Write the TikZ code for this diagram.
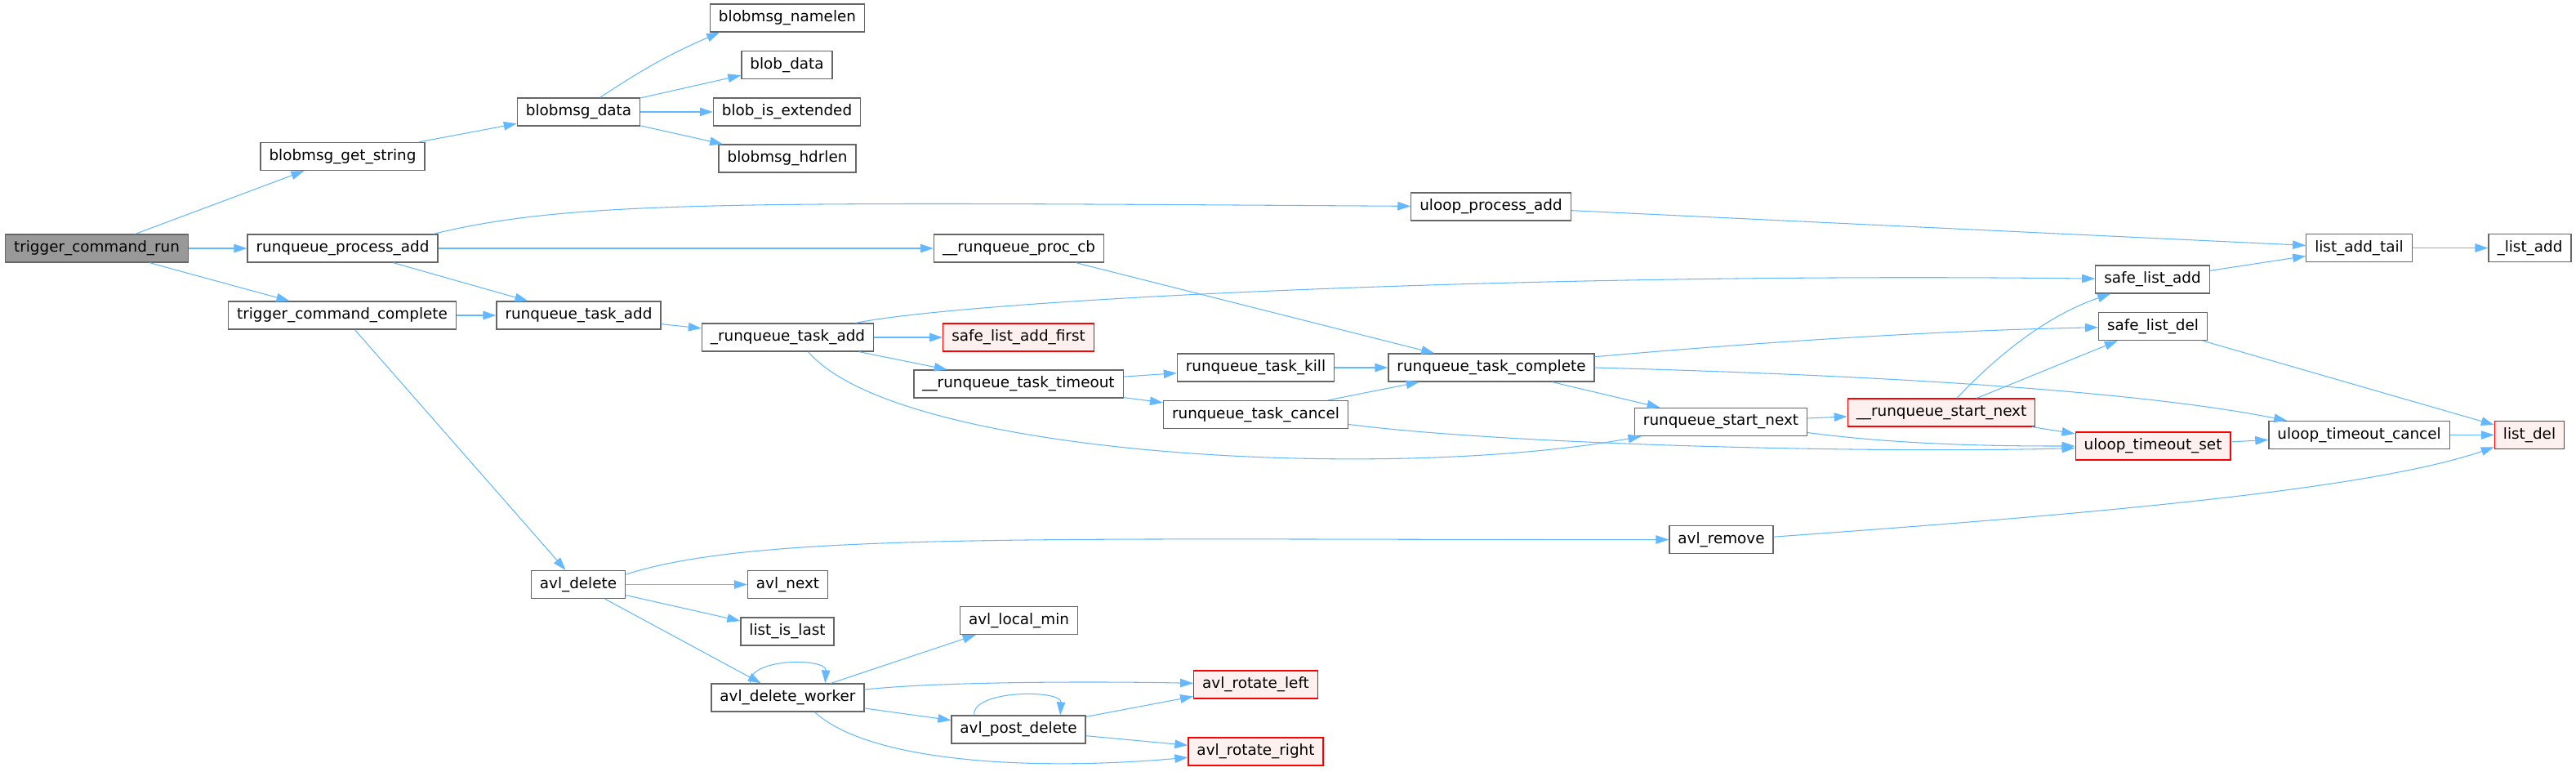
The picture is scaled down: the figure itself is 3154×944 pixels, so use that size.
\documentclass[tikz,border=0pt]{standalone}
\usepackage{fontspec}
\setmainfont{DejaVu Sans}
\usepackage{tikz}
\usetikzlibrary{arrows.meta}
\definecolor{edgeblue}{HTML}{63B8FF}
\definecolor{nodegray}{HTML}{666666}
\definecolor{rootgray}{HTML}{999999}
\definecolor{redfill}{HTML}{FFF0F0}

\begin{document}
\begin{tikzpicture}[
  x=0.02cm, y=-0.02cm,
  font=\fontsize{10.45}{12}\selectfont,
  fn/.style={draw=nodegray, fill=white, line width=0.7pt, minimum height=0.68cm, inner xsep=0.21cm, inner ysep=0pt},
  root/.style={fn, fill=rootgray},
  trunc/.style={fn, draw=red, fill=redfill},
  call/.style={-{Triangle[length=0.32cm,width=0.21cm]}, color=edgeblue, line width=0.6pt}
]
\useasboundingbox (0,0) rectangle (3154,944);

\node[root] (run) at (118.5,304) {trigger\_command\_run};
\node[fn] (getstr) at (419.5,191.5) {blobmsg\_get\_string};
\node[fn] (procadd) at (419.5,304) {runqueue\_process\_add};
\node[fn] (complete) at (419,386) {trigger\_command\_complete};

\node[fn] (bdata) at (708.5,137) {blobmsg\_data};
\node[fn] (namelen) at (964,22) {blobmsg\_namelen};
\node[fn] (blobdata) at (963.5,79.5) {blob\_data};
\node[fn] (isext) at (963.5,137) {blob\_is\_extended};
\node[fn] (hdrlen) at (964,194) {blobmsg\_hdrlen};
\node[fn] (taskadd) at (708.5,386) {runqueue\_task\_add};
\node[fn] (utaskadd) at (964.5,413) {\_runqueue\_task\_add};

\node[fn] (avldel) at (708,715.5) {avl\_delete};
\node[fn] (avlnext) at (964.5,715.5) {avl\_next};
\node[fn] (islast) at (964,773) {list\_is\_last};
\node[fn] (worker) at (964.5,854) {avl\_delete\_worker};

\node[fn] (uprocadd) at (1825.5,253) {uloop\_process\_add};
\node[fn] (proccb) at (1247.5,304) {\_\_runqueue\_proc\_cb};
\node[trunc] (addfirst) at (1247,413) {safe\_list\_add\_first};
\node[fn] (tmout) at (1247,470) {\_\_runqueue\_task\_timeout};
\node[fn] (kill) at (1537.5,450) {runqueue\_task\_kill};
\node[fn] (tcomplete) at (1826,450) {runqueue\_task\_complete};
\node[fn] (cancel) at (1537.5,507.5) {runqueue\_task\_cancel};
\node[fn] (startnext) at (2107,516.5) {runqueue\_start\_next};
\node[fn] (avlremove) at (2107.5,660.5) {avl\_remove};

\node[fn] (localmin) at (1247.5,759.5) {avl\_local\_min};
\node[trunc] (rotleft) at (1537.5,838) {avl\_rotate\_left};
\node[fn] (postdel) at (1247,893) {avl\_post\_delete};
\node[trunc] (rotright) at (1537.5,920) {avl\_rotate\_right};

\node[trunc] (ustartnext) at (2377,505) {\_\_runqueue\_start\_next};
\node[fn] (addtail) at (2888.5,303.5) {list\_add\_tail};
\node[fn] (safeadd) at (2635.5,342) {safe\_list\_add};
\node[fn] (safedel) at (2636,399.5) {safe\_list\_del};
\node[trunc] (tmset) at (2636,546) {uloop\_timeout\_set};
\node[fn] (tmcancel) at (2888.5,532.5) {uloop\_timeout\_cancel};
\node[fn] (listadd) at (3097.5,303.5) {\_list\_add};
\node[trunc] (listdel) at (3097,532.5) {list\_del};

\draw[call] (run) -- (getstr);
\draw[call] (run) -- (procadd);
\draw[call] (run) -- (complete);
\draw[call] (getstr) -- (bdata);
\draw[call] (bdata.34) to[bend left=5] (namelen.192);
\draw[call] (bdata) -- (blobdata);
\draw[call] (bdata) -- (isext);
\draw[call] (bdata) -- (hdrlen);
\draw[call] (procadd.9) .. controls (700,245) and (900,247) .. (uprocadd);
\draw[call] (procadd) -- (proccb);
\draw[call] (procadd) -- (taskadd);
\draw[call] (complete) -- (taskadd);
\draw[call] (complete) -- (avldel);
\draw[call] (taskadd) -- (utaskadd);

\draw[call] (utaskadd.12) .. controls (1200,365) and (1900,333) .. (safeadd);
\draw[call] (utaskadd) -- (addfirst);
\draw[call] (utaskadd) -- (tmout);
\draw[call] (utaskadd.-35) .. controls (1100,560) and (1700,590) .. (startnext);
\draw[call] (uprocadd) -- (addtail);
\draw[call] (proccb) -- (tcomplete);
\draw[call] (tmout) -- (kill);
\draw[call] (tmout) -- (cancel);
\draw[call] (kill) -- (tcomplete);
\draw[call] (cancel) -- (tcomplete);
\draw[call] (cancel.-6) .. controls (1850,545) and (2300,555) .. (tmset);
\draw[call] (tcomplete.6) .. controls (2200,415) and (2400,404) .. (safedel);
\draw[call] (tcomplete.east) .. controls (2250,458) and (2600,475) .. (tmcancel);
\draw[call] (tcomplete) -- (startnext);
\draw[call] (startnext) -- (ustartnext);
\draw[call] (startnext.-7) .. controls (2330,545) and (2450,546) .. (tmset);
\draw[call] (ustartnext.43) .. controls (2450,430) and (2510,385) .. (safeadd);
\draw[call] (ustartnext) -- (safedel);
\draw[call] (ustartnext) -- (tmset);
\draw[call] (tmset) -- (tmcancel);
\draw[call] (tmcancel) -- (listdel);
\draw[call] (safeadd) -- (addtail);
\draw[call] (safedel) -- (listdel);
\draw[call] (addtail) -- (listadd);
\draw[call] (avlremove.3) .. controls (2550,630) and (2900,600) .. (listdel);

\draw[call] (avldel.12) .. controls (930,650) and (1300,661) .. (avlremove);
\draw[call] (avldel) -- (avlnext);
\draw[call] (avldel) -- (islast);
\draw[call] (avldel) -- (worker);
\draw[call] (worker.159) .. controls (915,805) and (1012,805) .. (worker.21);
\draw[call] (worker) -- (localmin);
\draw[call] (worker.6) .. controls (1150,834) and (1350,834) .. (rotleft);
\draw[call] (worker) -- (postdel);
\draw[call] (worker.-28) .. controls (1060,930) and (1250,945) .. (rotright);
\draw[call] (postdel.162) .. controls (1190,844) and (1300,844) .. (postdel.19);
\draw[call] (postdel) -- (rotleft);
\draw[call] (postdel) -- (rotright);
\end{tikzpicture}
\end{document}
